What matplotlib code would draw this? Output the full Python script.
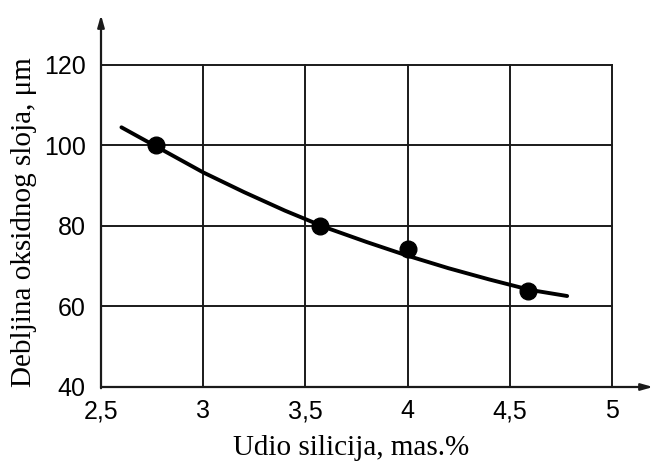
import matplotlib
matplotlib.use("Agg")
import matplotlib.pyplot as plt

# Data
pts_x = [2.77, 3.57, 4.0, 4.59]
pts_y = [100.0, 80.0, 74.3, 63.8]

curve_x = [2.60, 2.80, 3.00, 3.20, 3.40, 3.60, 3.80, 4.00, 4.20, 4.40, 4.60, 4.78]
curve_y = [104.5, 98.9, 93.3, 88.4, 83.8, 79.6, 76.0, 72.6, 69.5, 66.7, 64.1, 62.6]

xticks = [2.5, 3.0, 3.5, 4.0, 4.5, 5.0]
xtick_labels = ["2,5", "3", "3,5", "4", "4,5", "5"]
yticks = [40, 60, 80, 100, 120]
ytick_labels = ["40", "60", "80", "100", "120"]

xlabel = "Udio silicija, mas.%"
ylabel = "Debljina oksidnog sloja, μm"

W, H = 653, 466
fig = plt.figure(figsize=(W / 100, H / 100), dpi=100)
ax = fig.add_axes([101/W, 79/H, 552/W, 372/H])
x0, x1, xend = 2.5, 5.0, 5.2
y0, y1, yend = 40, 120, 132.4
ax.set_xlim(x0, xend)
ax.set_ylim(y0, yend)
for s in ax.spines.values():
    s.set_visible(False)

lc = "#1a1a1a"
# grid and box
for xv in xticks[1:]:
    ax.plot([xv, xv], [y0, y1], color=lc, lw=1.4, zorder=1)
for yv in yticks[1:]:
    ax.plot([x0, x1], [yv, yv], color=lc, lw=1.4, zorder=1)

# axes with arrows
ax.annotate("", xy=(x0, yend), xytext=(x0, y0 - 0.3),
            arrowprops=dict(arrowstyle="-|>,head_length=0.7,head_width=0.2", color=lc, lw=1.6, shrinkA=0, shrinkB=0))
ax.annotate("", xy=(xend, y0), xytext=(x0, y0),
            arrowprops=dict(arrowstyle="-|>,head_length=0.7,head_width=0.2", color=lc, lw=1.6, shrinkA=0, shrinkB=0))

ax.plot(curve_x, curve_y, color="black", lw=2.8, zorder=3, solid_capstyle="round")
ax.plot(pts_x, pts_y, "o", color="black", ms=12, zorder=4)

ax.set_xticks(xticks)
ax.set_xticklabels(xtick_labels, fontfamily="Liberation Sans", fontsize=18)
ax.set_yticks(yticks)
ax.set_yticklabels(ytick_labels, fontfamily="Liberation Sans", fontsize=18)
ax.tick_params(axis="x", length=0, pad=9)
ax.tick_params(axis="y", length=0, pad=11)

fig.text(351 / W, 1 - 448 / H, xlabel, fontfamily="Liberation Serif", fontsize=21,
         ha="center", va="center")
fig.text(24 / W, 1 - 222 / H, ylabel, fontfamily="Liberation Serif", fontsize=21,
         ha="center", va="center", rotation=90)

fig.savefig("out.png", dpi=100)
